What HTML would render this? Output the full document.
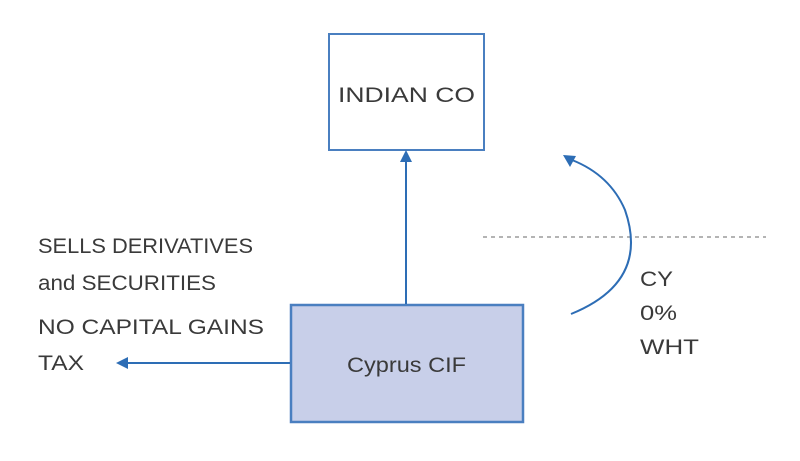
<!DOCTYPE html>
<html><head><style>
body{margin:0;background:#fff;}
svg text{font-family:"Liberation Sans",sans-serif;fill:#3a3a3a;font-size:21px;}
</style></head><body>
<svg width="800" height="456" xmlns="http://www.w3.org/2000/svg">
<rect width="800" height="456" fill="#fff"/>
<rect x="329" y="34" width="155" height="116" fill="#fff" stroke="#4a7fc0" stroke-width="2"/>
<text x="338" y="102" textLength="137" lengthAdjust="spacingAndGlyphs">INDIAN CO</text>
<rect x="291" y="305" width="232" height="117" fill="#c8cfe9" stroke="#4a7fc0" stroke-width="2.5"/>
<text x="347" y="372" textLength="119" lengthAdjust="spacingAndGlyphs">Cyprus CIF</text>
<line x1="406" y1="304" x2="406" y2="160" stroke="#2d6db5" stroke-width="2"/>
<polygon points="406,150 400,162 412,162" fill="#2d6db5"/>
<line x1="290" y1="363" x2="126" y2="363" stroke="#2d6db5" stroke-width="2"/>
<polygon points="116,363 128,357 128,369" fill="#2d6db5"/>
<line x1="483" y1="237" x2="766" y2="237" stroke="#888" stroke-width="1.2" stroke-dasharray="4,4"/>
<path d="M571 314 Q650 282 625 210 Q610 175 572 160" fill="none" stroke="#2d6db5" stroke-width="2"/>
<polygon points="563,155 576,156 570,167" fill="#2d6db5"/>
<text x="640" y="286" textLength="33" lengthAdjust="spacingAndGlyphs">CY</text>
<text x="640" y="320" textLength="37" lengthAdjust="spacingAndGlyphs">0%</text>
<text x="640" y="354" textLength="59" lengthAdjust="spacingAndGlyphs">WHT</text>
<text x="38" y="253" textLength="215" lengthAdjust="spacingAndGlyphs">SELLS DERIVATIVES</text>
<text x="38" y="290" textLength="178" lengthAdjust="spacingAndGlyphs">and SECURITIES</text>
<text x="38" y="334" textLength="226" lengthAdjust="spacingAndGlyphs">NO CAPITAL GAINS</text>
<text x="38" y="370" textLength="46" lengthAdjust="spacingAndGlyphs">TAX</text>
</svg>
</body></html>
